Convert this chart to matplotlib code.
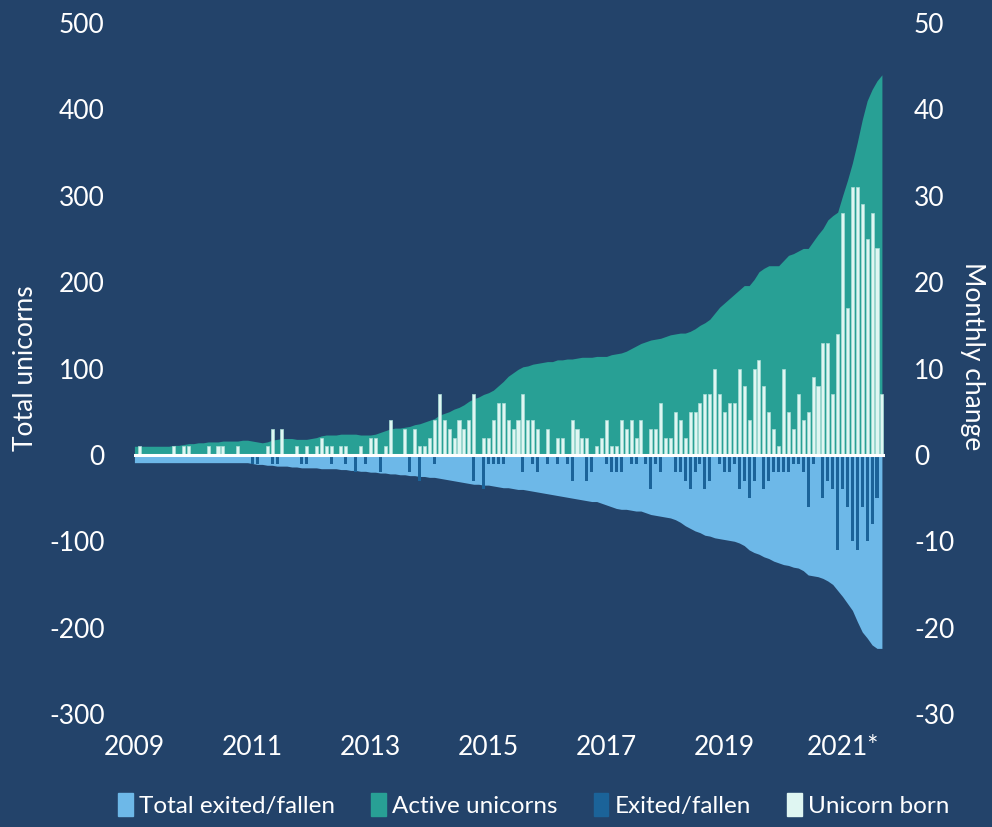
import matplotlib.pyplot as plt
import numpy as np
from matplotlib.patches import Patch

# monthly data, Jan 2009 .. Sep 2021 (153 months)
born = [0, 1, 0, 0, 0, 0, 0, 0, 1, 0,
        1, 1, 0, 0, 0, 1, 0, 1, 1, 0,
        0, 1, 0, 0, 0, 0, 0, 1, 3, 0,
        3, 0, 0, 1, 0, 1, 0, 1, 2, 1,
        1, 0, 1, 1, 0, 0, 1, 0, 2, 2,
        0, 1, 4, 0, 0, 3, 0, 3, 1, 1,
        2, 4, 7, 4, 3, 2, 4, 3, 4, 7,
        0, 2, 2, 4, 6, 6, 4, 3, 4, 7,
        4, 4, 3, 0, 3, 0, 2, 2, 0, 4,
        3, 2, 2, 0, 1, 2, 4, 1, 1, 4,
        3, 4, 2, 4, 0, 3, 3, 6, 2, 2,
        5, 4, 2, 5, 5, 6, 7, 7, 10, 7,
        5, 6, 6, 10, 8, 4, 10, 11, 8, 5,
        3, 1, 10, 5, 3, 7, 4, 5, 9, 8,
        13, 13, 7, 14, 28, 17, 31, 31, 29, 25,
        28, 24, 7]

exited = [0, 0, 0, 0, 0, 0, 0, 0, 0, 0,
          0, 0, 0, 0, 0, 0, 0, 0, 0, 0,
          0, 0, 0, 0, 1, 1, 0, 0, 1, 1,
          0, 0, 0, 0, 1, 1, 0, 0, 0, 0,
          1, 0, 0, 1, 0, 2, 0, 1, 0, 0,
          2, 0, 0, 0, 0, 0, 2, 0, 3, 0,
          0, 1, 0, 0, 0, 0, 0, 0, 0, 3,
          0, 4, 1, 1, 1, 1, 0, 0, 0, 2,
          0, 1, 2, 0, 1, 0, 1, 0, 1, 3,
          0, 0, 3, 2, 0, 0, 1, 2, 2, 2,
          0, 1, 1, 0, 1, 4, 1, 2, 0, 0,
          2, 2, 3, 4, 2, 1, 4, 3, 0, 1,
          2, 2, 1, 4, 3, 5, 3, 0, 4, 3,
          2, 2, 2, 2, 1, 1, 2, 6, 1, 0,
          5, 3, 4, 11, 4, 6, 10, 11, 6, 10,
          8, 5, 0]

active = [10, 10, 10, 10, 10, 10, 10, 10, 11, 11,
          12, 13, 13, 14, 14, 15, 15, 15, 16, 16,
          16, 16, 17, 17, 16, 15, 14, 15, 17, 18,
          19, 19, 19, 18, 18, 18, 19, 20, 22, 23,
          23, 23, 24, 24, 24, 24, 23, 23, 23, 24,
          26, 28, 30, 31, 31, 32, 33, 35, 36, 38,
          40, 42, 46, 48, 50, 53, 55, 58, 62, 65,
          67, 70, 72, 75, 80, 85, 91, 95, 99, 102,
          103, 105, 106, 107, 108, 108, 110, 110, 111, 111,
          112, 113, 113, 113, 114, 114, 114, 116, 117, 118,
          120, 123, 126, 129, 131, 133, 134, 135, 137, 139,
          140, 141, 141, 143, 146, 150, 153, 157, 164, 171,
          176, 181, 186, 191, 196, 196, 203, 212, 216, 219,
          219, 219, 225, 231, 233, 236, 239, 239, 247, 255,
          262, 272, 277, 281, 300, 318, 338, 362, 388, 410,
          423, 433, 440]

total_exited = [9, 9, 9, 9, 9, 9, 9, 9, 9, 9,
                9, 9, 9, 9, 9, 9, 9, 9, 9, 9,
                9, 9, 9, 9, 10, 11, 11, 12, 12, 13,
                13, 13, 14, 14, 15, 15, 15, 15, 16, 16,
                16, 16, 17, 17, 18, 18, 19, 19, 20, 20,
                21, 21, 22, 22, 23, 23, 24, 24, 25, 25,
                26, 26, 27, 28, 29, 30, 31, 32, 33, 34,
                34, 35, 35, 36, 37, 38, 38, 39, 40, 40,
                41, 42, 43, 44, 45, 46, 47, 48, 49, 50,
                51, 52, 53, 54, 54, 56, 58, 60, 62, 63,
                63, 64, 65, 65, 67, 69, 70, 71, 72, 73,
                75, 78, 82, 85, 88, 90, 93, 94, 96, 97,
                98, 99, 100, 102, 105, 110, 113, 115, 118, 120,
                123, 125, 127, 128, 130, 131, 134, 139, 140, 141,
                143, 146, 150, 157, 164, 172, 180, 193, 205, 212,
                220, 224, 224]

year_ticks = [0, 24, 48, 72, 96, 120, 144]
year_labels = ['2009', '2011', '2013', '2015', '2017', '2019', '2021*']

bg = '#23436A'
c_active = '#28A095'
c_total = '#6DB8E8'
c_exit = '#1B6399'
c_born = '#DFF6F2'

plt.rcParams['font.family'] = ['Lato', 'DejaVu Sans']
plt.rcParams['axes.unicode_minus'] = False

months = np.arange(len(born))

fig = plt.figure(figsize=(9.92, 8.27), dpi=100, facecolor=bg)
ax = fig.add_axes([0.135, 0.1366, 0.757, 0.8356])
ax.set_facecolor(bg)

ax.fill_between(months, 0, active, color=c_active, lw=0)
ax.fill_between(months, 0, -np.array(total_exited), color=c_total, lw=0)
ax.set_ylim(-300, 500)
ax.set_yticks(range(-300, 501, 100))
ax.set_xlim(-0.1, 152.6)
ax.set_xticks(year_ticks)
ax.set_xticklabels(year_labels)

ax2 = ax.twinx()
ax2.bar(months, born, width=0.62, color=c_born, edgecolor='#A9DDD6', lw=0.5)
ax2.bar(months, -np.array(exited), width=0.62, color=c_exit, lw=0)
ax2.axhline(0, color='white', lw=2.2)
ax2.set_ylim(-30, 50)
ax2.set_yticks(range(-30, 51, 10))

for a in (ax, ax2):
    for s in a.spines.values():
        s.set_visible(False)
    a.tick_params(length=0, colors='white', labelsize=19)
ax.tick_params(axis='y', pad=21)
ax2.tick_params(axis='y', pad=21)
ax.tick_params(axis='x', pad=15)

fig.text(26 / 992, 1 - 368 / 827, 'Total unicorns', color='white', fontsize=19,
         rotation=90, ha='center', va='center')
fig.text(972 / 992, 1 - 356 / 827, 'Monthly change', color='white', fontsize=19,
         rotation=270, ha='center', va='center')

handles = [Patch(color=c_total, label='Total exited/fallen'),
           Patch(color=c_active, label='Active unicorns'),
           Patch(color=c_exit, label='Exited/fallen'),
           Patch(color=c_born, label='Unicorn born')]
leg = fig.legend(handles=handles, loc='center', bbox_to_anchor=(0.538, 0.027), ncol=4,
                 frameon=False, fontsize=17.5, handlelength=0.6, handleheight=1.1,
                 handletextpad=0.25, columnspacing=1.5)
for t in leg.get_texts():
    t.set_color('white')

fig.savefig('out.png', dpi=100, facecolor=bg)
